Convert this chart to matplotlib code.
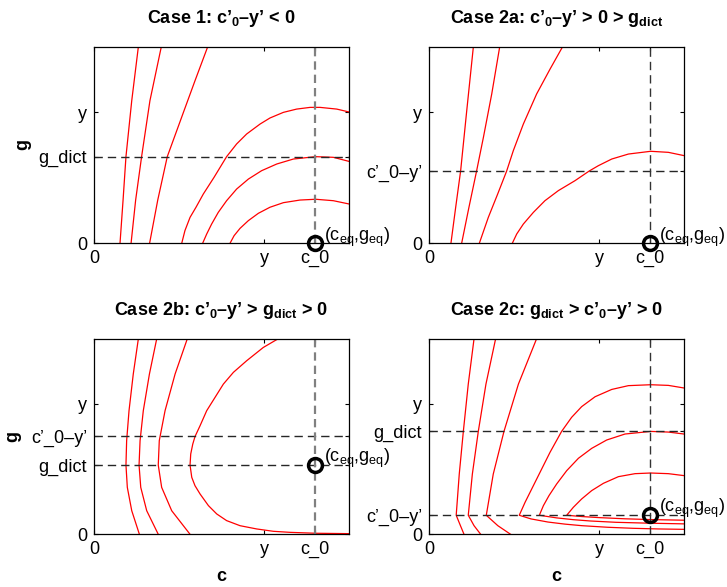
import matplotlib.pyplot as plt

plt.rcParams['font.family'] = 'Liberation Sans'
plt.rcParams['mathtext.fontset'] = 'custom'
plt.rcParams['mathtext.rm'] = 'Liberation Sans'
plt.rcParams['mathtext.it'] = 'Liberation Sans:italic'
plt.rcParams['mathtext.bf'] = 'Liberation Sans:bold'

# ── Axis values (arbitrary units) ─────────────────────────────────────────────
XMAX, YMAX = 1.5, 1.5
Y_VAL = 1.0        # "y" tick on both axes
C0 = 1.3           # c_0
G_DICT = [0.66, None, 0.53, 0.79]
C0_Y = [None, 0.55, 0.75, 0.146]
G_EQ = [0.0, 0.0, 0.53, 0.146]

# ── Contour curves: (c, g) ────────────────────────────────────────────────────
case1_curves = [
    ([0.153, 0.171, 0.188, 0.222, 0.261], [0, 0.330, 0.661, 1.088, 1.5]),
    ([0.218, 0.245, 0.280, 0.329, 0.396], [0, 0.330, 0.661, 1.088, 1.5]),
    ([0.327, 0.375, 0.431, 0.526, 0.594, 0.669], [0, 0.330, 0.661, 0.999, 1.240, 1.5]),
    ([0.516, 0.535, 0.565, 0.600, 0.643, 0.706, 0.780, 0.839, 0.898, 0.977,
      1.035, 1.114, 1.192, 1.271, 1.330, 1.428, 1.500],
     [0, 0.097, 0.198, 0.275, 0.376, 0.503, 0.661, 0.758, 0.834, 0.910,
      0.956, 0.999, 1.024, 1.037, 1.037, 1.024, 1.002]),
    ([0.639, 0.663, 0.692, 0.731, 0.780, 0.839, 0.908, 0.986, 1.075, 1.173,
      1.304, 1.408, 1.500],
     [0, 0.071, 0.147, 0.236, 0.325, 0.414, 0.490, 0.554, 0.605, 0.643,
      0.661, 0.656, 0.625]),
    ([0.800, 0.824, 0.859, 0.908, 0.967, 1.035, 1.114, 1.212, 1.304, 1.408, 1.500],
     [0, 0.058, 0.114, 0.173, 0.229, 0.275, 0.310, 0.330, 0.336, 0.325, 0.300]),
]

case2a_curves = [
    ([0.129, 0.157, 0.186, 0.222, 0.261], [0, 0.275, 0.552, 1.012, 1.5]),
    ([0.192, 0.235, 0.280, 0.320, 0.369, 0.416], [0, 0.275, 0.552, 0.808, 1.139, 1.5]),
    ([0.296, 0.349, 0.404, 0.457, 0.496, 0.555, 0.633, 0.712, 0.786],
     [0, 0.198, 0.376, 0.552, 0.707, 0.910, 1.139, 1.329, 1.5]),
    ([0.490, 0.516, 0.555, 0.614, 0.682, 0.761, 0.859, 0.943, 0.996, 1.075,
      1.173, 1.304, 1.408, 1.500],
     [0, 0.071, 0.147, 0.236, 0.325, 0.402, 0.478, 0.552, 0.592, 0.643,
      0.681, 0.702, 0.694, 0.669]),
]

case2b_curves = [
    ([0.267, 0.222, 0.196, 0.188, 0.192, 0.206, 0.231, 0.261],
     [0, 0.181, 0.360, 0.531, 0.718, 0.948, 1.229, 1.5]),
    ([0.378, 0.310, 0.275, 0.265, 0.271, 0.290, 0.326, 0.369],
     [0, 0.181, 0.360, 0.531, 0.718, 0.948, 1.229, 1.5]),
    ([0.565, 0.457, 0.398, 0.378, 0.384, 0.418, 0.477, 0.549],
     [0, 0.181, 0.360, 0.531, 0.718, 0.948, 1.229, 1.5]),
    ([1.500, 1.304, 1.153, 1.055, 0.957, 0.859, 0.780, 0.722, 0.673, 0.624,
      0.594, 0.575, 0.565, 0.569, 0.581, 0.594, 0.624, 0.663, 0.712, 0.761,
      0.820, 0.898, 0.996, 1.084],
     [0.005, 0.008, 0.015, 0.023, 0.041, 0.066, 0.105, 0.156, 0.220, 0.309,
      0.373, 0.437, 0.531, 0.616, 0.692, 0.749, 0.833, 0.948, 1.050, 1.152,
      1.242, 1.331, 1.433, 1.5]),
]

case2c_curves = [
    ([0.265, 0.231, 0.202, 0.178, 0.160, 0.185, 0.206],
     [1.5, 1.152, 0.789, 0.462, 0.146, 0.066, 0]),
    ([0.392, 0.335, 0.290, 0.255, 0.231, 0.265, 0.304],
     [1.5, 1.152, 0.789, 0.462, 0.146, 0.066, 0]),
    ([0.633, 0.526, 0.441, 0.378, 0.337, 0.405, 0.480],
     [1.5, 1.152, 0.789, 0.462, 0.146, 0.066, 0]),
    # arches: upper branch, then lower branch from the kink
    ([1.500, 1.408, 1.304, 1.173, 1.075, 0.977, 0.898, 0.839, 0.780, 0.712,
      0.653, 0.604, 0.565, 0.531,
      0.600, 0.700, 0.800, 0.900, 1.050, 1.200, 1.350, 1.500],
     [1.122, 1.142, 1.147, 1.140, 1.111, 1.055, 0.979, 0.897, 0.789, 0.629,
      0.475, 0.347, 0.245, 0.146,
      0.118, 0.094, 0.078, 0.066, 0.054, 0.046, 0.041, 0.038]),
    ([1.500, 1.408, 1.304, 1.153, 1.045, 0.957, 0.879, 0.810, 0.751, 0.706,
      0.673, 0.649,
      0.750, 0.850, 0.950, 1.100, 1.300, 1.500],
     [0.769, 0.784, 0.789, 0.769, 0.723, 0.659, 0.583, 0.488, 0.386, 0.297,
      0.220, 0.146,
      0.126, 0.112, 0.102, 0.092, 0.085, 0.080]),
    ([1.500, 1.408, 1.304, 1.212, 1.114, 1.026, 0.957, 0.898, 0.849, 0.810,
      0.900, 1.000, 1.150, 1.300, 1.500],
     [0.450, 0.465, 0.470, 0.465, 0.442, 0.391, 0.335, 0.271, 0.207, 0.146,
      0.136, 0.128, 0.119, 0.113, 0.108]),
]

titles = [
    r"Case 1: c’$_\mathbf{0}$–y’ < 0",
    r"Case 2a: c’$_\mathbf{0}$–y’ > 0 > g$_\mathbf{dict}$",
    r"Case 2b: c’$_\mathbf{0}$–y’ > g$_\mathbf{dict}$ > 0",
    r"Case 2c: g$_\mathbf{dict}$ > c’$_\mathbf{0}$–y’ > 0",
]
all_curves = [case1_curves, case2a_curves, case2b_curves, case2c_curves]

# ── Figure ────────────────────────────────────────────────────────────────────
W, H = 727, 587
fig = plt.figure(figsize=(W / 100, H / 100), dpi=100)

lefts = [94, 429, 94, 429]
bottoms = [243.3, 243.3, 534.3, 534.3]
heights = [196.6, 196.6, 195.6, 195.6]
vcols = ['0.5', '0.2', '0.5', '0.2']
vlws = [1.6, 1.0, 1.6, 1.0]

for i in range(4):
    ax = fig.add_axes([lefts[i] / W, (H - bottoms[i]) / H, 255 / W, heights[i] / H])
    ax.set_xlim(0, XMAX)
    ax.set_ylim(0, YMAX)

    for cx, cy in all_curves[i]:
        ax.plot(cx, cy, color='red', lw=0.9)

    yt = [(0, '0'), (Y_VAL, 'y')]
    if G_DICT[i] is not None:
        yt.append((G_DICT[i], 'g_dict'))
        ax.axhline(G_DICT[i], color='0.15', lw=1.0, dashes=(6, 3.6))
    if C0_Y[i] is not None:
        yt.append((C0_Y[i], 'c’_0–y’'))
        ax.axhline(C0_Y[i], color='0.15', lw=1.0, dashes=(6, 3.6))
    yt.sort()
    ax.set_yticks([t[0] for t in yt])
    ax.set_yticklabels([t[1] for t in yt])
    ax.set_xticks([0, Y_VAL, C0])
    ax.set_xticklabels(['0', 'y', 'c_0'])

    ax.axvline(C0, color=vcols[i], lw=vlws[i], dashes=(6 / vlws[i], 3.6 / vlws[i]))

    ax.plot(C0, G_EQ[i], 'o', mfc='none', mec='k', ms=10, mew=2.5,
            clip_on=False, zorder=5)
    ax.annotate(r"(c$_\mathrm{eq}$,g$_\mathrm{eq}$)", (C0, G_EQ[i]),
                xytext=(6.5, 2), textcoords='offset points', fontsize=13,
                ha='left', va='baseline', annotation_clip=False)

    ax.tick_params(direction='in', top=True, right=True, length=3,
                   width=0.8, labelsize=13, pad=5)
    for s in ax.spines.values():
        s.set_linewidth(0.9)

    ax.text(0.5, 1 + 24 / heights[i], titles[i], transform=ax.transAxes,
            ha='center', va='baseline', fontsize=13, fontweight='bold')

    if i % 2 == 0:
        ax.set_ylabel('g', fontsize=13, fontweight='bold')
        ax.yaxis.set_label_coords(-0.247 if i == 0 else -0.286, 0.5)
    if i >= 2:
        ax.set_xlabel('c', fontsize=13, fontweight='bold')
        ax.xaxis.set_label_coords(0.5, -0.17)

plt.savefig('out.png', dpi=100)
